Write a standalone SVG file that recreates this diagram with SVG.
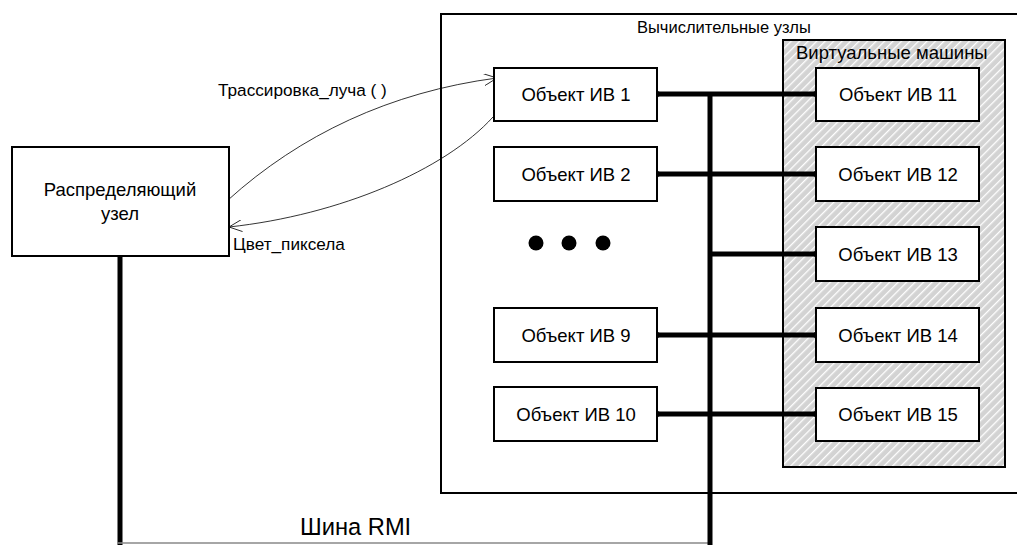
<svg xmlns="http://www.w3.org/2000/svg" width="1017" height="545" viewBox="0 0 1017 545">
  <style>
    text { font-family: "Liberation Sans", Arial, sans-serif; fill: #000; }
    .box { fill: #fff; stroke: #000; stroke-width: 2; }
    .lbl { font-size: 18.5px; text-anchor: middle; }
    .bus { stroke: #000; stroke-width: 5; fill: none; }
    .link { stroke: #000; stroke-width: 5; fill: none; }
    .end { fill: #000; }
    .call { stroke: #000; stroke-width: 0.8; fill: none; marker-end: url(#open); }
  </style>
  <defs>
    <pattern id="hatch" width="6" height="6" patternUnits="userSpaceOnUse" patternTransform="rotate(45)">
      <rect width="6" height="6" fill="#d3d3d3"/>
      <rect x="0" y="0" width="1.3" height="6" fill="#fff"/>
    </pattern>
    <marker id="open" markerWidth="14" markerHeight="12" refX="13" refY="6" orient="auto" markerUnits="userSpaceOnUse">
      <path d="M0,0 L13,6 L0,12" fill="none" stroke="#000" stroke-width="0.8"/>
    </marker>
  </defs>

  <!-- compute nodes container -->
  <g id="compute-nodes">
    <rect x="441" y="14" width="590" height="479" fill="#fff" stroke="#000" stroke-width="2"/>
    <text x="637" y="33" font-size="16.5">Вычислительные узлы</text>
  </g>

  <!-- virtual machines container -->
  <g id="virtual-machines">
    <rect x="783" y="40" width="222" height="427" fill="url(#hatch)" stroke="#000" stroke-width="2"/>
    <text x="796" y="59" font-size="18.5">Виртуальные машины</text>
  </g>

  <!-- connectors -->
  <g id="connectors">
    <!-- RMI bus -->
    <line class="bus" x1="120" y1="256" x2="120" y2="545"/>
    <line x1="117" y1="543" x2="712" y2="543" stroke="#888" stroke-width="1.5"/>
    <line class="bus" x1="710" y1="94" x2="710" y2="545"/>
    <!-- links between objects -->
    <line class="link" x1="657" y1="94" x2="816" y2="94"/>
    <line class="link" x1="657" y1="174" x2="816" y2="174"/>
    <line class="link" x1="710" y1="254" x2="816" y2="254"/>
    <line class="link" x1="657" y1="335" x2="816" y2="335"/>
    <line class="link" x1="657" y1="414" x2="816" y2="414"/>
    <circle class="end" cx="657" cy="94" r="3"/>
    <circle class="end" cx="816" cy="94" r="3"/>
    <circle class="end" cx="657" cy="174" r="3"/>
    <circle class="end" cx="816" cy="174" r="3"/>
    <circle class="end" cx="816" cy="254" r="3"/>
    <circle class="end" cx="657" cy="335" r="3"/>
    <circle class="end" cx="816" cy="335" r="3"/>
    <circle class="end" cx="657" cy="414" r="3"/>
    <circle class="end" cx="816" cy="414" r="3"/>
    <!-- remote calls -->
    <path class="call" d="M228,200 C300,135 390,92 497,78"/>
    <path class="call" d="M493,117 C445,170 340,215 229,227"/>
    <text x="218" y="96" font-size="17.2">Трассировка_луча ( )</text>
    <text x="233" y="250" font-size="17.2">Цвет_пиксела</text>
    <text x="300" y="535" font-size="23.7">Шина RMI</text>
  </g>

  <!-- dispatcher -->
  <g id="dispatcher">
    <rect class="box" x="12" y="147" width="217" height="109"/>
    <text class="lbl" x="120" y="196">Распределяющий</text>
    <text class="lbl" x="120" y="220">узел</text>
  </g>

  <!-- objects on compute nodes -->
  <g id="obj-1"><rect class="box" x="494" y="68" width="163" height="53"/><text class="lbl" x="576" y="101">Объект ИВ 1</text></g>
  <g id="obj-2"><rect class="box" x="494" y="147" width="163" height="54"/><text class="lbl" x="576" y="181">Объект ИВ 2</text></g>
  <g id="ellipsis">
    <circle cx="536" cy="243" r="7.5"/>
    <circle cx="569" cy="243" r="7.5"/>
    <circle cx="603" cy="243" r="7.5"/>
  </g>
  <g id="obj-9"><rect class="box" x="494" y="308" width="163" height="54"/><text class="lbl" x="576" y="342">Объект ИВ 9</text></g>
  <g id="obj-10"><rect class="box" x="494" y="387" width="163" height="54"/><text class="lbl" x="576" y="421">Объект ИВ 10</text></g>

  <!-- objects on virtual machines -->
  <g id="obj-11"><rect class="box" x="816" y="68" width="163" height="53"/><text class="lbl" x="898" y="101">Объект ИВ 11</text></g>
  <g id="obj-12"><rect class="box" x="816" y="147" width="163" height="54"/><text class="lbl" x="898" y="181">Объект ИВ 12</text></g>
  <g id="obj-13"><rect class="box" x="816" y="227" width="163" height="54"/><text class="lbl" x="898" y="261">Объект ИВ 13</text></g>
  <g id="obj-14"><rect class="box" x="816" y="308" width="163" height="54"/><text class="lbl" x="898" y="342">Объект ИВ 14</text></g>
  <g id="obj-15"><rect class="box" x="816" y="388" width="163" height="53"/><text class="lbl" x="898" y="421">Объект ИВ 15</text></g>
</svg>
